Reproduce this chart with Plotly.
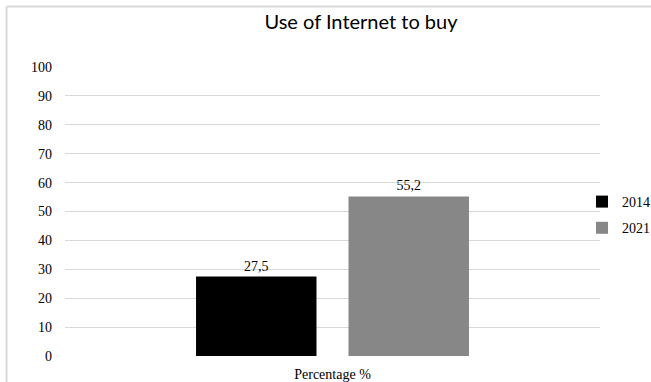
import plotly.graph_objects as go

categories = ["Percentage %"]
years = ["2014", "2021"]
values_2014 = [27.5]
values_2021 = [55.2]
colors = ["#000000", "#878787"]
title_text = "Use of Internet to buy"
y_ticks = [0, 10, 20, 30, 40, 50, 60, 70, 80, 90, 100]

W, H = 651, 382
ML, MR, MT, MB = 65, 51, 67, 26
serif = "Liberation Serif"

fig = go.Figure()
for name, vals, col in zip(years, [values_2014, values_2021], colors):
    fig.add_trace(go.Bar(
        x=categories, y=vals, name=name, legendgroup=name,
        marker=dict(color=col, line=dict(width=0)),
        texttemplate="%{y:.1f}", textposition="outside",
        textfont=dict(family=serif, size=14, color="#000000"),
        cliponaxis=False,
    ))

pw = W - ML - MR
ph = H - MT - MB
def px_x(p):
    return (p - ML) / pw
def px_y(p):
    return (H - MB - p) / ph

fig.update_layout(
    width=W, height=H,
    margin=dict(l=ML, r=MR, t=MT, b=MB, pad=0, autoexpand=False),
    paper_bgcolor="white", plot_bgcolor="white",
    separators=",.",
    barmode="group", bargap=0.43, bargroupgap=0.21,
    title=dict(text=title_text, x=361 / W, xanchor="center", y=1 - 22 / H, yanchor="middle",
               xref="container", yref="container",
               font=dict(family="Lato", size=20, color="#000000")),
    xaxis=dict(showgrid=False, showline=False, zeroline=False, ticks="",
               tickfont=dict(family=serif, size=14, color="#000000"), ticklabelstandoff=8),
    yaxis=dict(range=[0, 100], tickvals=y_ticks, showgrid=True, gridcolor="#d9d9d9", gridwidth=1,
               zeroline=False, showline=False, ticks="",
               tickfont=dict(family=serif, size=14, color="#000000"), ticklabelstandoff=12),
    legend=dict(x=px_x(582), y=px_y(186), xanchor="left", yanchor="top",
                traceorder="grouped", tracegroupgap=5,
                font=dict(family=serif, size=14, color="#000000"),
                itemwidth=30, bgcolor="rgba(0,0,0,0)"),
    showlegend=True,
    shapes=[
        dict(type="line", xref="paper", yref="paper", x0=px_x(6.5), x1=px_x(6.5), y0=px_y(H + 2), y1=px_y(6.5),
             line=dict(color="#d9d9d9", width=2), layer="above"),
        dict(type="line", xref="paper", yref="paper", x0=px_x(6.5), x1=px_x(W + 2), y0=px_y(6.5), y1=px_y(6.5),
             line=dict(color="#d9d9d9", width=2), layer="above"),
    ],
)

fig.write_html("out.html")
